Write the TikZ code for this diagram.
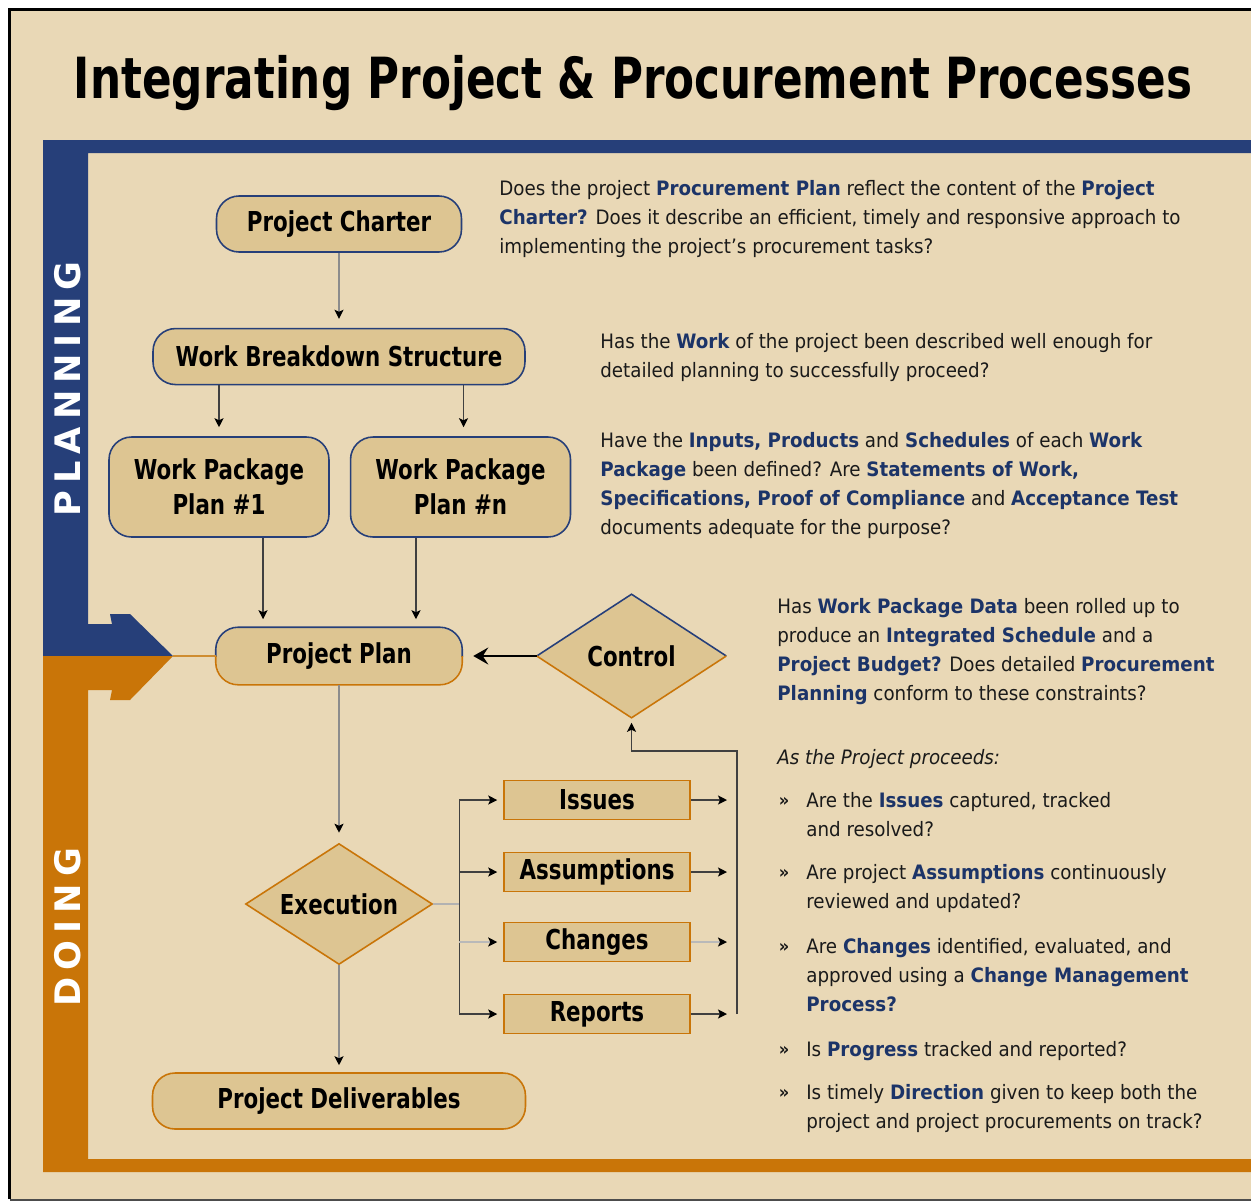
\documentclass[tikz,border=0pt]{standalone}
\usepackage{fontspec}
\usetikzlibrary{positioning,shapes.geometric,arrows.meta}
\setmainfont{DejaVu Sans}
\newfontfamily\headfont[FakeStretch=0.77]{DejaVu Sans}
\newfontfamily\boxfont[FakeStretch=0.78]{DejaVu Sans}
\newfontfamily\bodyfont[FakeStretch=0.92]{DejaVu Sans}
\newfontfamily\bandfont[LetterSpace=20]{DejaVu Sans}
\definecolor{pagebg}{HTML}{E9D8B6}
\definecolor{boxtan}{HTML}{DDC592}
\definecolor{bandblue}{HTML}{263F79}
\definecolor{bandorange}{HTML}{C97508}
\definecolor{kwblue}{HTML}{1C3468}
\definecolor{txtdark}{HTML}{1A1A1A}
\newcommand\kw[1]{{\bfseries\color{kwblue}#1}}
\tikzset{
  pbox/.style={draw=bandblue, fill=boxtan, rounded corners=0.45cm, line width=0.9pt,
    align=center, inner sep=0pt, font=\boxfont\bfseries\fontsize{15.6}{19.9}\selectfont},
  obox/.style={pbox, draw=bandorange},
  dbox/.style={diamond, shape aspect=1.55, fill=boxtan, inner sep=0pt, line width=0.9pt,
    font=\boxfont\bfseries\fontsize{15.6}{19.9}\selectfont},
  sbox/.style={rectangle, draw=bandorange, fill=boxtan, line width=0.9pt, inner sep=0pt,
    minimum width=3.72cm, minimum height=0.78cm, font=\boxfont\bfseries\fontsize{15.6}{19.9}\selectfont},
  tip/.style={-{Stealth[length=1.8mm, width=1.8mm, inset=0.4mm, black]}},
  gline/.style={tip, draw=gray!90, line width=0.8pt},
  dline/.style={tip, draw=black!75, line width=0.8pt},
  qtext/.style={anchor=north west, inner sep=0pt, align=left, text=txtdark,
    font=\bodyfont\fontsize{11.3}{16.45}\selectfont},
  qmark/.style={anchor=base, inner sep=0pt, text=txtdark, font=\bodyfont\bfseries\fontsize{10}{10}\selectfont}
}
\begin{document}
\begin{tikzpicture}[x=0.02cm, y=-0.02cm]
  \useasboundingbox (0,0) rectangle (1251,1201);
  \fill[white] (0,0) rectangle (1251,1201);
  \fill[pagebg] (10,10) rectangle (1251,1199);
  \draw[black, line width=0.07cm] (9.5,1199) -- (9.5,9.5) -- (1251,9.5);
  \draw[black!70, line width=0.04cm] (9.5,1199.5) -- (1251,1199.5);

  \fill[bandblue] (43,656) -- (43,140) -- (1251,140) -- (1251,153) -- (88,153) -- (88,624)
    -- (112,624) -- (110,614) -- (130,614) -- (173,656) -- cycle;
  \fill[bandorange] (43,656) -- (173,656) -- (130,700) -- (110,700) -- (112,690) -- (88,690)
    -- (88,1159) -- (1251,1159) -- (1251,1172) -- (43,1172) -- cycle;
  \coordinate (bandtip) at (173,656);

  \node[rotate=90, text=white, font=\bandfont\bfseries\fontsize{20}{20}\selectfont] (planning) at (68,389) {PLANNING};
  \node[rotate=90, text=white, font=\bandfont\bfseries\fontsize{20}{20}\selectfont] (doing) at (68,927) {DOING};

  \node[anchor=base, text=black, font=\headfont\bfseries\fontsize{32.3}{36}\selectfont] (title) at (633,98)
    {Integrating Project \& Procurement Processes};

  \node[pbox, minimum width=4.9cm, minimum height=1.12cm] (charter) at (339,224) {Project Charter};
  \node[pbox, minimum width=7.44cm, minimum height=1.12cm, below=1.5cm of charter] (wbs) {Work Breakdown Structure};
  \node[pbox, minimum width=4.4cm, minimum height=2cm] (wp1) at (219,487) {Work Package\\Plan \#1};
  \node[pbox, minimum width=4.4cm, minimum height=2cm, right=0.4cm of wp1] (wpn) {Work Package\\Plan \#n};
  \node[pbox, draw=none, minimum width=4.9cm, minimum height=1.12cm] (plan) at (339,656) {Project Plan};
  \node[dbox, minimum width=3.76cm, minimum height=2.44cm, right=1.49cm of plan] (ctrl) {Control};
  \node[dbox, draw=bandorange, minimum width=3.74cm, minimum height=2.42cm] (exec) at (339,904) {Execution};
  \node[obox, minimum width=7.46cm, minimum height=1.12cm] (deliv) at (339,1101) {Project Deliverables};

  \node[sbox] (issues) at (597,800) {Issues};
  \node[sbox] (assum) at (597,872) {Assumptions};
  \node[sbox] (changes) at (597,942) {Changes};
  \node[sbox] (reports) at (597,1014) {Reports};

  \begin{scope}
    \clip (150,600) rectangle (480,656);
    \draw[bandblue, line width=0.9pt, rounded corners=0.45cm] (plan.south west) rectangle (plan.north east);
  \end{scope}
  \begin{scope}
    \clip (150,656) rectangle (480,700);
    \draw[bandorange, line width=0.9pt, rounded corners=0.45cm] (plan.south west) rectangle (plan.north east);
  \end{scope}
  \draw[bandblue, line width=0.9pt] (ctrl.west) -- (ctrl.north) -- (ctrl.east);
  \draw[bandorange, line width=0.9pt] (ctrl.west) -- (ctrl.south) -- (ctrl.east);

  \draw[draw=bandorange!70!boxtan, line width=0.7pt] (bandtip) -- (plan.west);

  \coordinate (pin1) at ([xshift=-1.52cm]plan.north);
  \coordinate (pin2) at ([xshift=1.54cm]plan.north);
  \draw[gline, shorten >=0.18cm] (charter) -- (wbs);
  \draw[dline, shorten >=0.18cm] (wp1.north |- wbs.south) -- (wp1.north);
  \draw[dline, shorten >=0.18cm] ([xshift=0.06cm]wpn.north |- wbs.south) -- ([xshift=0.06cm]wpn.north);
  \draw[dline, shorten >=0.16cm] (pin1 |- wp1.south) -- (pin1);
  \draw[dline, shorten >=0.16cm] (pin2 |- wpn.south) -- (pin2);
  \draw[gline, shorten >=0.2cm] (plan) -- (exec);
  \draw[gline, shorten >=0.14cm] (exec) -- (deliv);
  \draw[-{Stealth[length=3mm, width=3.4mm, inset=1.1mm]}, line width=1.3pt, shorten >=0.22cm] (ctrl.west) -- (plan.east);

  \coordinate (split) at ([xshift=0.52cm]exec.east);
  \coordinate (ret) at (737,751);
  \draw[draw=gray!60, line width=1.2pt] (exec.east) -- (split);
  \draw[draw=black!75, line width=0.8pt] (split |- issues) -- (split |- reports);
  \foreach \b in {issues,assum,reports}
    \draw[dline, shorten >=0.12cm] (split |- \b) -- (\b.west);
  \draw[gline, draw=gray!55, line width=1.2pt, shorten >=0.12cm] (split |- changes) -- (changes.west);
  \foreach \b in {issues,assum,reports}
    \draw[dline, shorten >=0.2cm] (\b.east) -- (ret |- \b);
  \draw[gline, draw=gray!55, line width=1.2pt, shorten >=0.2cm] (changes.east) -- (ret |- changes);
  \draw[dline, shorten >=0.1cm] (ret |- reports) -- (ret) -- (ctrl.south |- ret) -- (ctrl.south);

  \node[qtext] (q1) at (499,180) {Does the project \kw{Procurement Plan} reflect the content of the \kw{Project}\\
    \kw{Charter?} Does it describe an efficient, timely and responsive approach to\\
    implementing the project’s procurement tasks?};
  \node[qtext] (q2) at (600,333) {Has the \kw{Work} of the project been described well enough for\\
    detailed planning to successfully proceed?};
  \node[qtext] (q3) at (600,432) {Have the \kw{Inputs, Products} and \kw{Schedules} of each \kw{Work}\\
    \kw{Package} been defined? Are \kw{Statements of Work,}\\
    \kw{Specifications, Proof of Compliance} and \kw{Acceptance Test}\\
    documents adequate for the purpose?};
  \node[qtext] (q4) at (777,598) {Has \kw{Work Package Data} been rolled up to\\
    produce an \kw{Integrated Schedule} and a\\
    \kw{Project Budget?} Does detailed \kw{Procurement}\\
    \kw{Planning} conform to these constraints?};
  \node[qtext, font=\bodyfont\itshape\fontsize{11.3}{16.45}\selectfont] (asproj) at (777,749) {As the Project proceeds:};

  \node[qtext] (b1) at (806,792) {Are the \kw{Issues} captured, tracked\\ and resolved?};
  \node[qtext] (b2) at (806,864) {Are project \kw{Assumptions} continuously\\ reviewed and updated?};
  \node[qtext] (b3) at (806,938) {Are \kw{Changes} identified, evaluated, and\\
    approved using a \kw{Change Management}\\ \kw{Process?}};
  \node[qtext] (b4) at (806,1041) {Is \kw{Progress} tracked and reported?};
  \node[qtext] (b5) at (806,1084) {Is timely \kw{Direction} given to keep both the\\
    project and project procurements on track?};
  \foreach \m/\yy in {m1/806, m2/878, m3/952, m4/1055, m5/1098}
    \node[qmark] (\m) at (784,\yy) {»};
\end{tikzpicture}
\end{document}
